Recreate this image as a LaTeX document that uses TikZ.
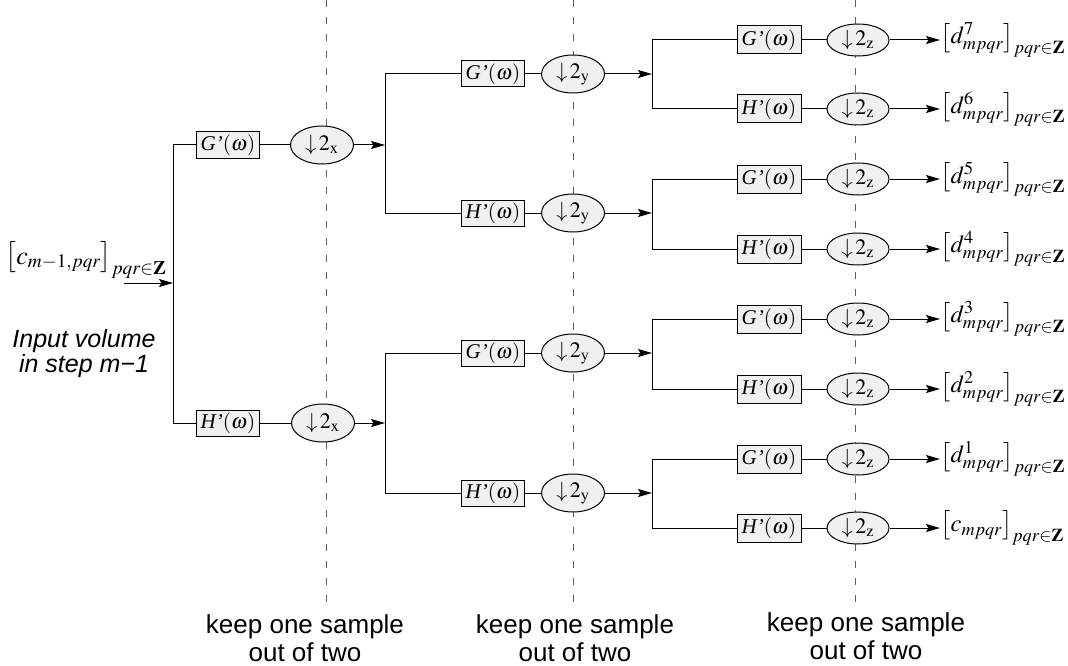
\documentclass[tikz,border=0pt]{standalone}
\usepackage{mathptmx}
\usepackage[no-math]{fontspec}
\setmainfont{Liberation Serif}
\usetikzlibrary{shapes.geometric,arrows.meta}
\newfontfamily\sansfnt{Liberation Sans}
\newcommand{\Gp}{\textit{G’}$(\omega)$}
\newcommand{\Hp}{\textit{H’}$(\omega)$}
\newcommand{\outlab}[1]{$\bigl[#1\bigr]_{pqr\in\mathbf{Z}}$}
\begin{document}
\begin{tikzpicture}[x=1pt,y=-1pt,
  line width=1pt,
  filt/.style={draw, fill=gray!12, minimum width=63pt, minimum height=26pt, inner sep=0pt,
    font=\fontsize{21}{23}\selectfont},
  filtc/.style={filt, minimum width=64pt, minimum height=28pt},
  dwn/.style={ellipse, draw, fill=gray!12, minimum width=63pt, minimum height=38pt, inner sep=0pt,
    font=\fontsize{22}{24}\selectfont},
  dwnc/.style={dwn, minimum width=62pt, minimum height=32pt},
  arr/.style={-{Stealth[length=14pt,width=8pt,inset=2.5pt]}},
  dsh/.style={draw=gray!75!black, line width=0.8pt, dash pattern=on 7pt off 10pt},
  capt/.style={align=center, inner sep=0pt, font=\sansfnt\fontsize{26}{28}\selectfont},
  olab/.style={anchor=west, inner sep=0pt, font=\fontsize{24.5}{27}\selectfont}
]
\useasboundingbox (0,0) rectangle (1068,666);

% dashed guide lines and captions
\node[capt] (k1) at (305,638) {keep one sample\\out of two};
\node[capt] (k2) at (575,638) {keep one sample\\out of two};
\node[capt] (k3) at (866,636) {keep one sample\\out of two};
\coordinate (t1) at (326,0);
\coordinate (t2) at (573,0);
\coordinate (t3) at (855,0);
\draw[dsh] (t1) -- ([yshift=5pt]t1 |- k1.north);
\draw[dsh] (t2) -- ([yshift=5pt]t2 |- k2.north);
\draw[dsh] (t3) -- ([yshift=5pt]t3 |- k3.north);

% input
\node[font=\fontsize{26}{28}\selectfont] (inlab) at (86,260) {$\bigl[c_{m-1,pqr}\bigr]_{pqr\in\mathbf{Z}}$};
\node[align=center, font=\sansfnt\itshape\fontsize{25}{25}\selectfont] (intext) at (84,354) {Input volume\\in step m−1};
\coordinate (in) at (124,283);
\coordinate (j0) at (173,283);
\draw[arr] (in) -- (j0);

% level 1
\node[filt] (G1) at (228,145) {\Gp};
\node[filt] (H1) at (228,423) {\Hp};
\node[dwn] (EG1) at (322,145) {$\downarrow\!2_{\mathrm{x}}$};
\node[dwn] (EH1) at (323,423) {$\downarrow\!2_{\mathrm{x}}$};
\draw (j0) |- (G1.west);
\draw (j0) |- (H1.west);
\draw (G1) -- (EG1);
\draw (H1) -- (EH1);
\coordinate (j1a) at (385,145);
\coordinate (j1b) at (385,423);
\draw[arr] (EG1) -- (j1a);
\draw[arr] (EH1) -- (j1b);

% level 2
\foreach \n/\y/\t/\j in {a/74/G/j1a, b/213/H/j1a, c/353/G/j1b, d/493/H/j1b}{
  \node[filt] (F2\n) at (493,\y) {\csname \t p\endcsname};
  \node[dwn] (E2\n) at (573,\y) {$\downarrow\!2_{\mathrm{y}}$};
  \draw (\j) |- (F2\n.west);
  \draw (F2\n) -- (E2\n);
  \coordinate (j2\n) at (652,\y);
  \draw[arr] (E2\n) -- (j2\n);
}

% level 3
\foreach \n/\y/\t/\j/\lab in {
  a/40/G/j2a/d^{7}_{mpqr},
  b/109/H/j2a/d^{6}_{mpqr},
  c/179/G/j2b/d^{5}_{mpqr},
  d/249/H/j2b/d^{4}_{mpqr},
  e/319/G/j2c/d^{3}_{mpqr},
  f/389/H/j2c/d^{2}_{mpqr},
  g/459/G/j2d/d^{1}_{mpqr},
  h/528/H/j2d/c_{mpqr}}{
  \node[filtc] (F3\n) at (769,\y) {\csname \t p\endcsname};
  \node[dwnc] (E3\n) at (858,\y) {$\downarrow\!2_{\mathrm{z}}$};
  \node[olab] (O\n) at (940,\y) {\outlab{\lab}};
  \draw (\j) |- (F3\n.west);
  \draw (F3\n) -- (E3\n);
  \draw[arr] (E3\n) -- (O\n.west);
}
\end{tikzpicture}
\end{document}
